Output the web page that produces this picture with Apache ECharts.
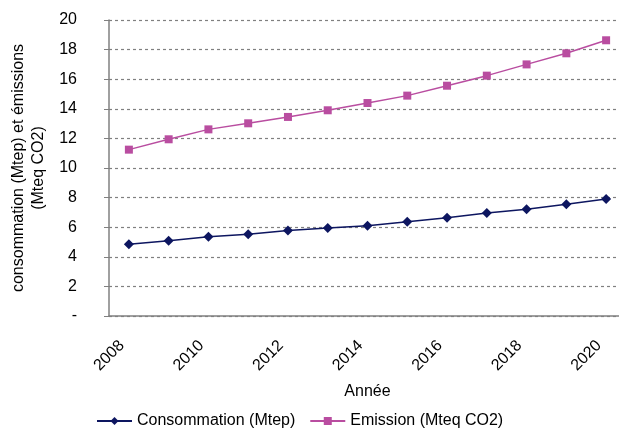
<!DOCTYPE html>
<html>
<head>
<meta charset="utf-8">
<script src="https://cdn.jsdelivr.net/npm/echarts@6/dist/echarts.min.js"></script>
<style>
  html, body { margin: 0; padding: 0; background: #fff; }
  #chart { width: 619px; height: 434px; }
</style>
</head>
<body>
<div id="chart"></div>
<script>
// données
const years = ['2008', '2009', '2010', '2011', '2012', '2013', '2014', '2015', '2016', '2017', '2018', '2019', '2020'];
const consommation = [4.84, 5.09, 5.36, 5.52, 5.77, 5.95, 6.1, 6.37, 6.64, 6.96, 7.21, 7.55, 7.9];
const emission = [11.24, 11.94, 12.61, 13.02, 13.45, 13.9, 14.39, 14.89, 15.56, 16.24, 17.0, 17.75, 18.63];
const seriesNames = ['Consommation (Mtep)', 'Emission (Mteq CO2)'];

const font = '"Liberation Sans", Arial, sans-serif';
const axisGrey = '#808080';

const chart = echarts.init(document.getElementById('chart'));
chart.setOption({
  animation: false,
  textStyle: { fontFamily: font, color: '#000' },
  grid: { left: 109, top: 20, right: -7, bottom: 118, containLabel: false, outerBoundsMode: 'none' },
  legend: {
    bottom: 0,
    left: 91,
    itemWidth: 35,
    itemHeight: 10,
    itemGap: 14,
    textStyle: { fontSize: 16, color: '#000', fontFamily: font },
    data: seriesNames,
  },
  xAxis: {
    type: 'category',
    data: years,
    boundaryGap: true,
    name: 'Année',
    nameLocation: 'middle',
    nameGap: 68,
    nameTextStyle: { fontSize: 16, color: '#000', fontFamily: font, verticalAlign: 'top' },
    axisLine: { lineStyle: { color: axisGrey, width: 1.5 } },
    axisTick: { interval: 0, length: 5, lineStyle: { color: axisGrey } },
    axisLabel: {
      interval: 1,
      rotate: 45,
      margin: 20,
      padding: [0, 10, 0, 0],
      fontSize: 16,
      color: '#000',
      fontFamily: font,
    },
    splitLine: { show: false },
  },
  yAxis: {
    type: 'value',
    min: 0,
    max: 20,
    interval: 2,
    name: 'consommation (Mtep) et émissions\n(Mteq CO2)',
    nameLocation: 'middle',
    nameRotate: 90,
    nameGap: 60,
    nameTextStyle: { fontSize: 16, color: '#000', fontFamily: font, lineHeight: 20 },
    axisLine: { show: true, lineStyle: { color: axisGrey, width: 1.5 } },
    axisTick: { show: true, length: 5, lineStyle: { color: axisGrey } },
    axisLabel: {
      margin: 32,
      fontSize: 16,
      color: '#000',
      fontFamily: font,
      formatter: (v) => (v === 0 ? '-' : String(v)),
    },
    splitLine: { show: true, lineStyle: { color: axisGrey, type: [3, 3], width: 1.2 } },
  },
  series: [
    {
      name: seriesNames[0],
      type: 'line',
      data: consommation,
      symbol: 'diamond',
      symbolSize: 10,
      color: '#0d1660',
      lineStyle: { width: 1.5 },
    },
    {
      name: seriesNames[1],
      type: 'line',
      data: emission,
      symbol: 'rect',
      symbolSize: 8,
      color: '#b94da0',
      lineStyle: { width: 1.5 },
    },
  ],
});
</script>
</body>
</html>
